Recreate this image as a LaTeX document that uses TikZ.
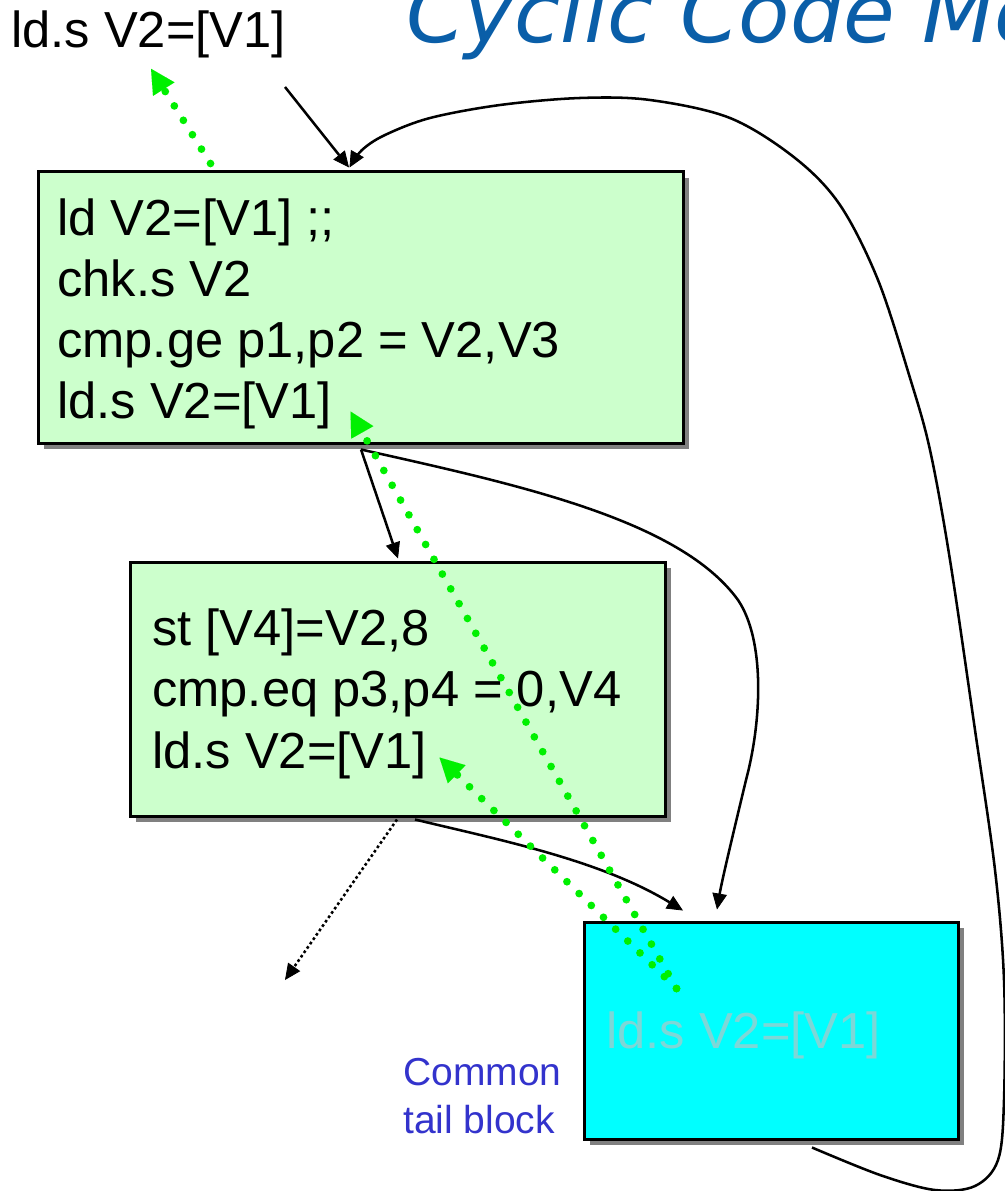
\documentclass[tikz,border=0pt]{standalone}
\usepackage{fontspec}
\setmainfont{Liberation Sans}
\newfontfamily\titlefont{DejaVu Sans Oblique}
\usetikzlibrary{arrows.meta,calc,shadows}

\definecolor{blockgreen}{RGB}{204,255,204}
\definecolor{tailcyan}{RGB}{0,255,255}
\definecolor{shadowgray}{RGB}{128,128,128}
\definecolor{spec}{RGB}{0,240,0}
\definecolor{titleblue}{RGB}{10,94,168}
\definecolor{noteblue}{RGB}{51,51,204}
\definecolor{ghost}{RGB}{125,215,215}

\begin{document}
\begin{tikzpicture}[x=0.75pt,y=-0.75pt,
  block/.style={draw=black, line width=2.25pt, inner sep=0pt,
    drop shadow={shadow xshift=4.5pt, shadow yshift=-4.5pt, fill=shadowgray, opacity=1}},
  code/.style={font=\fontsize{38}{45}\selectfont, inner sep=0pt, anchor=base west},
  flow/.style={line width=1.9pt, -{Triangle[length=12pt,width=11pt,line width=0.6pt]}},
  exitflow/.style={line width=1.9pt, dash pattern=on 2pt off 2pt,
    -{Triangle[length=12pt,width=11pt,line width=0.6pt]}},
  specload/.style={spec, line width=5.8pt, line cap=round, dash pattern=on 0pt off 12.75pt,
    -{Triangle[length=18pt,width=19pt,line width=0.01pt]}}]

\useasboundingbox (0,0) rectangle (1005,1191);

% title
\node[font=\titlefont\fontsize{63}{70}\selectfont, text=titleblue, inner sep=0pt, anchor=base west]
  (title) at (406,43) {Cyclic Code Mo};

% basic blocks
\node[block, fill=blockgreen, minimum width=483.75pt, minimum height=203.25pt] (b1) at (360.5,307.5) {};
\node[block, fill=blockgreen, minimum width=401.25pt, minimum height=190.5pt] (b2) at (397.5,689) {};
\node[block, fill=tailcyan, minimum width=280.5pt, minimum height=162.75pt] (tail) at (771,1030.5) {};

% instructions
\node[code] (hoisted) at (11,48) {ld.s V2=[V1]};
\node[code] (b1a) at (57,235) {ld V2=[V1] ;;};
\node[code] (b1b) at (57,296) {chk.s V2};
\node[code] (b1c) at (57,357) {cmp.ge p1,p2 = V2,V3};
\node[code] (b1d) at (57,418) {ld.s V2=[V1]};
\node[code] (b2a) at (152,645) {st [V4]=V2,8};
\node[code] (b2b) at (152,706) {cmp.eq p3,p4 = 0,V4};
\node[code] (b2c) at (152,768) {ld.s V2=[V1]};
\node[code, text=ghost] (tailld) at (606,1048) {ld.s V2=[V1]};

\node[font=\fontsize{29.25}{36}\selectfont, text=noteblue, inner sep=0pt, anchor=base west]
  (note1) at (403,1085) {Common};
\node[font=\fontsize{29.25}{36}\selectfont, text=noteblue, inner sep=0pt, anchor=base west]
  (note2) at (403,1133) {tail block};

% control flow
\coordinate (entry) at (285,87);
\coordinate (exit) at (285,980);
\draw[flow] (entry) -- ($(b1.north)+(-11.5,-3)$);
\draw[flow] ($(b1.south)+(0.5,5)$) -- ($(b2.north)+(0.5,-2)$);
\draw[flow] ($(b1.south)+(0.5,5)$) .. controls (520,485) and (680,520) .. (738,600)
  .. controls (765,640) and (762,720) .. (746,780)
  .. controls (734,830) and (722,880) .. ($(tail.north)+(-54,-11)$);
\draw[flow] ($(b2.south)+(17.5,2)$) .. controls (500,840) and (600,860) .. ($(tail.north)+(-88,-10)$);
\draw[exitflow] ($(b2.south)+(-0.5,2)$) -- (exit);
\draw[flow] plot[smooth, tension=0.55] coordinates {
  ($(tail.south)+(41,7)$) (880,1175) (935,1190) (975,1186) (998,1160) (1004,1100)
  (1004,980) (995,870) (975,730) (950,560) (930,450) (910,378) (878,280) (840,205)
  (795,158) (730,118) (650,100) (580,98) (500,105) (430,118) (385,135) (362,150)
  ($(b1.north)+(-11,-3)$)};

% speculative load motion
\coordinate (gsrc) at ($(tail.north west)+(94,68)$);
\draw[specload] ($(b1.north)+(-150,-7)$) -- ($(hoisted.south west)+(140,10)$);
\draw[specload] (gsrc) -- ($(b1.south west)+(314,-33)$);
\draw[specload] (gsrc) -- ($(b2.south west)+(311,-60)$);
\end{tikzpicture}
\end{document}
